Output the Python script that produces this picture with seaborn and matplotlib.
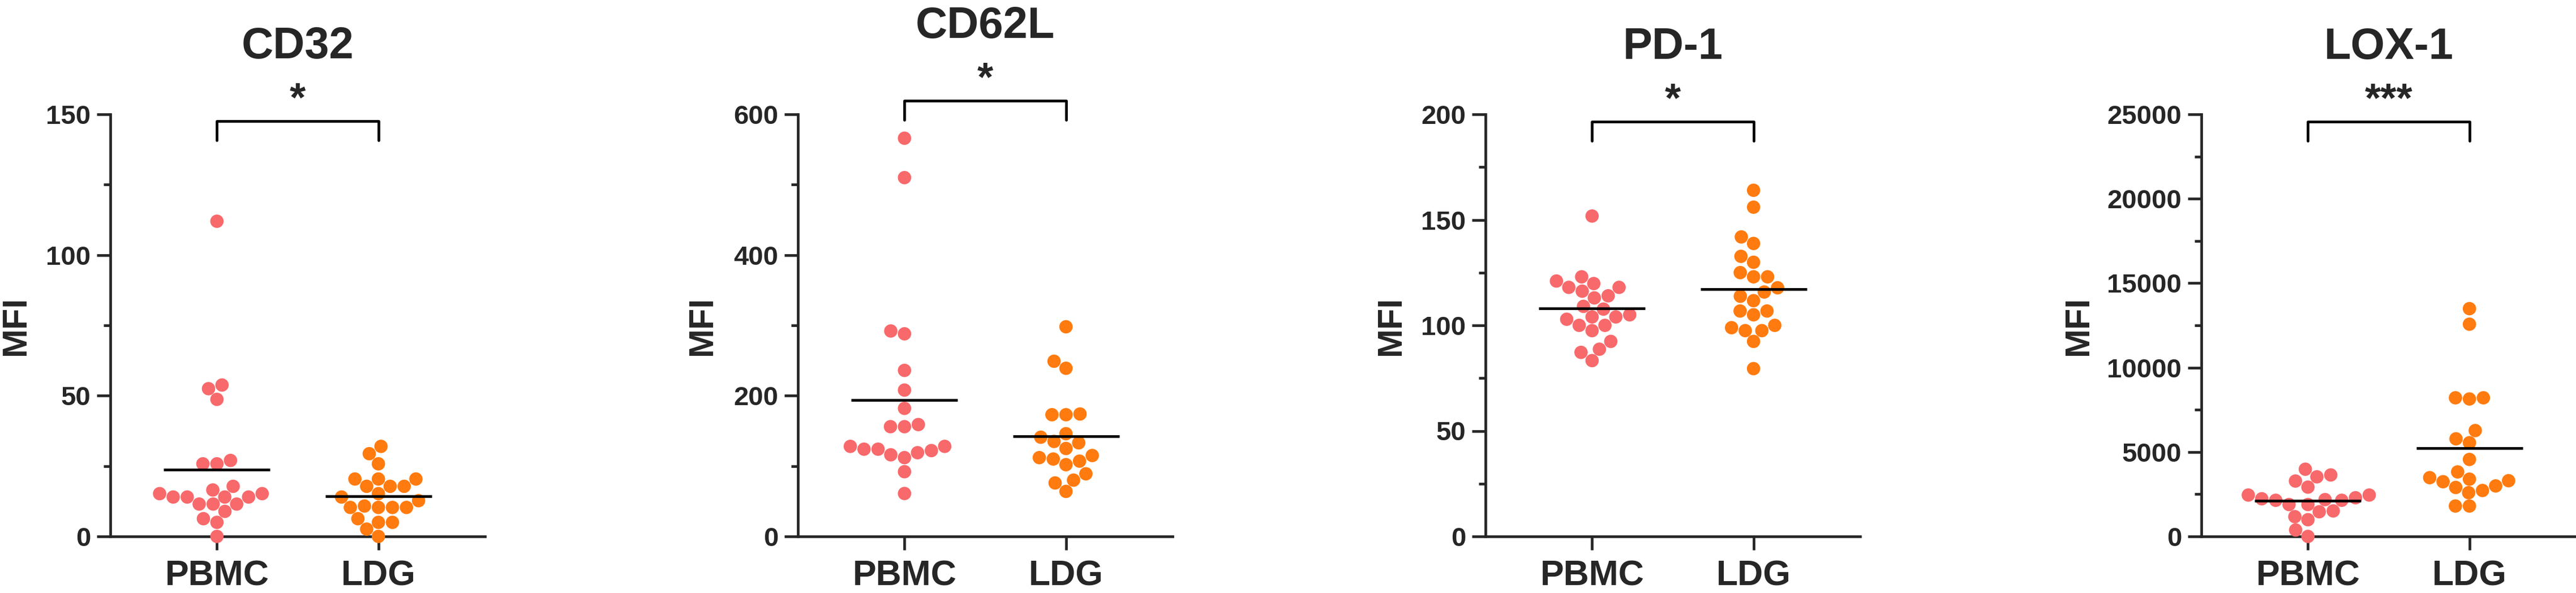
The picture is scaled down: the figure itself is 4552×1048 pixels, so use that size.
import numpy as np
import pandas as pd
import seaborn as sns
import matplotlib
matplotlib.use("Agg")
import matplotlib.pyplot as plt
import matplotlib.transforms as mtransforms
from matplotlib.ticker import MultipleLocator

# values (MFI per donor)
groups = ["PBMC", "LDG"]

cd32_pbmc = [112, 53.8, 52.5, 48.7, 27, 25.8, 25.8, 17.8, 16.5, 15.2, 14, 14,
             15.2, 14, 14, 11.5, 11.5, 11.5, 8.9, 6.3, 5.0, 0]
cd32_ldg = [32, 29.4, 25.8, 20.4, 20.4, 20.4, 17.8, 17.8, 17.8, 15.2, 14, 12.7,
            10.3, 10.3, 10.8, 10.3, 10.3, 6.3, 5.0, 5.0, 2.6, 0]

cd62l_pbmc = [566, 510, 292, 288, 236, 208, 182, 156, 156, 159, 128, 119,
              122, 112, 116, 124, 128, 124, 92, 61]
cd62l_ldg = [298, 249, 239, 173, 174, 173, 146, 141, 135, 133, 125, 115,
             112, 107, 110, 102, 89, 80, 76, 64]

pd1_pbmc = [151.8, 123, 121, 119.8, 118, 118, 116.2, 114, 113, 109, 107.7,
            105, 104, 102.9, 104, 100, 100, 97.5, 92.4, 88.7, 87.2, 83.3]
pd1_ldg = [164, 156, 141.9, 138.8, 132.7, 129.9, 125, 123, 123, 117.8, 115.8,
           113.8, 111.7, 106.8, 105, 106.8, 100, 98.9, 97.5, 97.5, 92.4, 79.5]

lox1_pbmc = [3980, 3640, 3530, 3280, 2920, 2450, 2450, 2290, 2230, 2140, 2140,
             2180, 1890, 1890, 1510, 1460, 1170, 990, 380, 0]
lox1_ldg = [13490, 12570, 8210, 8140, 8210, 6270, 5780, 5550, 4560, 3820, 3480,
            3390, 3300, 3240, 2990, 2900, 2720, 2590, 1800, 1800]

titles = ["CD32", "CD62L", "PD-1", "LOX-1"]
stars = ["*", "*", "*", "***"]
ymax = [150, 600, 200, 25000]
ystep = [50, 200, 50, 5000]
series = [(cd32_pbmc, cd32_ldg), (cd62l_pbmc, cd62l_ldg),
          (pd1_pbmc, pd1_ldg), (lox1_pbmc, lox1_ldg)]

colors = {"PBMC": "#F8696B", "LDG": "#FF7B0F"}

sns.set_style("ticks")
plt.rcParams["font.family"] = ["Liberation Sans", "DejaVu Sans"]
plt.rcParams["font.weight"] = "bold"

W, H = 4552, 1048
fig = plt.figure(figsize=(W / 100, H / 100), dpi=100)

# axes placement in pixels (left edge), shared bottom/top
lefts = [195, 1410, 2625, 3890]
ax_w, top_px, bot_px = 662, 202, 948
# title / bracket heights differ a bit per panel (pixels from top)
title_base = [103, 67, 104, 104]
bracket_y = [214, 178, 215, 215]
# distance from the y axis to the right side of the "MFI" label
label_off = [138, 140, 138, 188]

lw = 3.4
for i, (p, l) in enumerate(series):
    ax = fig.add_axes([lefts[i] / W, (H - bot_px) / H, ax_w / W,
                       (bot_px - top_px) / H])
    df = pd.DataFrame({"group": ["PBMC"] * len(p) + ["LDG"] * len(l),
                       "MFI": p + l})
    sns.swarmplot(data=df, x="group", y="MFI", hue="group", order=groups,
                  palette=colors, size=17, linewidth=0, ax=ax, legend=False,
                  clip_on=False, zorder=3)

    # mean line
    for j, g in enumerate(groups):
        m = df.loc[df.group == g, "MFI"].mean()
        ax.hlines(m, j - 0.33, j + 0.33, color="black", lw=lw, zorder=4)

    ax.set_xlim(-0.66, 1.66)
    ax.set_ylim(0, ymax[i])
    ax.yaxis.set_major_locator(MultipleLocator(ystep[i]))
    ax.yaxis.set_minor_locator(MultipleLocator(ystep[i] / 2))
    sns.despine(ax=ax)
    for s in ["left", "bottom"]:
        ax.spines[s].set_linewidth(lw)
    ax.tick_params(axis="y", which="major", length=17, width=lw,
                   labelsize=34, pad=8)
    ax.tick_params(axis="y", which="minor", length=9, width=lw)
    ax.tick_params(axis="x", length=17, width=lw, labelsize=45, pad=12)
    for t in ax.get_yticklabels() + ax.get_xticklabels():
        t.set_fontweight("bold")
    ax.set_xlabel("")
    ax.set_ylabel("MFI", fontsize=44, fontweight="bold")
    ax.yaxis.set_label_coords(-label_off[i] / ax_w, 0.5)

    axh = bot_px - top_px
    trans = mtransforms.blended_transform_factory(ax.transData, ax.transAxes)
    ax.text(0.5, (bot_px - title_base[i]) / axh, titles[i], transform=trans,
            ha="center", va="baseline", fontsize=56, fontweight="bold")

    # significance bracket
    yb = (bot_px - bracket_y[i]) / axh
    yd = yb - 34 / axh
    ax.plot([0, 0, 1, 1], [yd, yb, yb, yd], color="black", lw=lw,
            transform=trans, clip_on=False, solid_capstyle="round")
    ax.text(0.5, yb + 3 / axh, stars[i], transform=trans, ha="center",
            va="bottom", fontsize=52, fontweight="bold")

fig.savefig("out.png", dpi=100)
